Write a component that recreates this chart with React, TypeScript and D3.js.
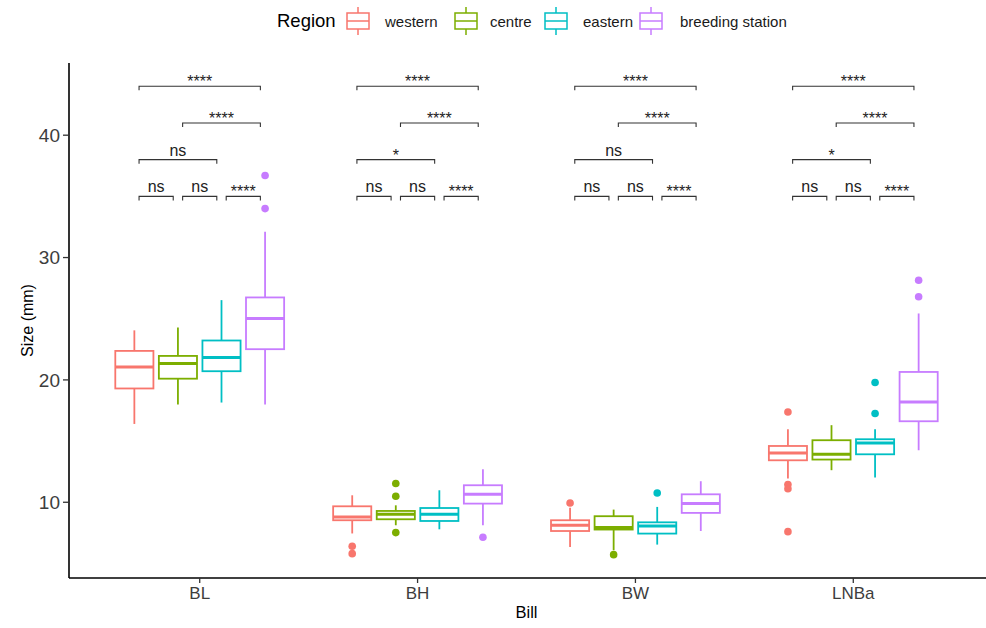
import * as d3 from "d3";

const categories = ["BL", "BH", "BW", "LNBa"];
const regions = ["western", "centre", "eastern", "breeding station"];
const colors = ["#F8766D", "#7CAE00", "#00BFC4", "#C77CFF"];

// [region][category]
const whiskerLow = [
  [16.4, 7.45, 6.35, 11.95],
  [18.0, 8.12, 6.08, 12.62],
  [18.15, 7.79, 6.54, 12.02],
  [18.0, 8.12, 7.65, 14.25],
];
const q1 = [
  [19.3, 8.53, 7.65, 13.43],
  [20.1, 8.61, 7.77, 13.49],
  [20.71, 8.47, 7.44, 13.92],
  [22.51, 9.89, 9.13, 16.62],
];
const median = [
  [21.05, 8.8, 8.12, 14.03],
  [21.34, 9.02, 7.93, 13.92],
  [21.83, 9.02, 8.06, 14.85],
  [25.02, 10.65, 9.89, 18.2],
];
const q3 = [
  [22.37, 9.67, 8.53, 14.6],
  [21.96, 9.29, 8.86, 15.07],
  [23.22, 9.53, 8.36, 15.15],
  [26.74, 11.39, 10.65, 20.65],
];
const whiskerHigh = [
  [24.05, 10.57, 9.55, 15.97],
  [24.28, 9.75, 9.4, 16.3],
  [26.52, 10.98, 9.62, 15.97],
  [32.1, 12.7, 11.72, 25.43],
];
const outliers = [
  [[], [6.4, 5.8], [9.94], [17.38, 11.45, 11.1, 7.6]],
  [[], [11.53, 10.49, 7.52], [5.72], []],
  [[], [], [10.76], [19.79, 17.25]],
  [[36.7, 34.0], [7.14], [], [28.15, 26.79]],
];

// pairwise comparisons: [from, to, y level]
const comparisons: [number, number, number][] = [
  [0, 1, 35],
  [1, 2, 35],
  [2, 3, 35],
  [0, 2, 38],
  [1, 3, 41],
  [0, 3, 44],
];
// labels [category][comparison]
const pLabels = [
  ["ns", "ns", "****", "ns", "****", "****"],
  ["ns", "ns", "****", "*", "****", "****"],
  ["ns", "ns", "****", "ns", "****", "****"],
  ["ns", "ns", "****", "*", "****", "****"],
];
const yTicks = [10, 20, 30, 40];

const W = 986;
const H = 628;
const left = 69;
const right = 984;
const top = 63;
const bottom = 578;
const FONT = "'Liberation Sans', Arial, sans-serif";

export default function App() {
  const x = d3.scaleLinear().domain([0.4, 4.6]).range([left, right]);
  const y = d3.scaleLinear().domain([3.81, 45.9]).range([bottom, top]);
  const dodge = 0.2;
  const boxW = 0.175;
  const cx = (ci: number, ri: number) => x(ci + 1 + (ri - 1.5) * dodge);
  const half = (x(boxW) - x(0)) / 2;
  const inset = 4.7;
  const tip = y(0) - y(0.33);

  // legend key / label positions
  const keyX = [347, 455, 545, 640];
  const labelX = [385, 490, 583, 680];

  return (
    <svg
      width={W}
      height={H}
      style={{ position: "absolute", left: 0, top: 0, background: "#fff" }}
      fontFamily={FONT}
    >
      {/* legend */}
      <text x={277} y={27} fontSize={18.5} fill="#000">
        Region
      </text>
      {regions.map((r, ri) => {
        const kx = keyX[ri];
        const kw = 22;
        return (
          <g key={r}>
            <g stroke={colors[ri]} strokeWidth={1.5} fill="none">
              <line x1={kx + kw / 2} x2={kx + kw / 2} y1={7} y2={13} />
              <line x1={kx + kw / 2} x2={kx + kw / 2} y1={29} y2={35} />
              <rect x={kx} y={13} width={kw} height={16} />
              <line x1={kx} x2={kx + kw} y1={21} y2={21} />
            </g>
            <text x={labelX[ri]} y={26.5} fontSize={15} fill="#1a1a1a">
              {r}
            </text>
          </g>
        );
      })}

      {/* boxes */}
      {regions.map((r, ri) => (
        <g key={r} stroke={colors[ri]} fill="none">
          {categories.map((c, ci) => {
            const px = cx(ci, ri);
            return (
              <g key={c}>
                <line x1={px} x2={px} y1={y(q3[ri][ci])} y2={y(whiskerHigh[ri][ci])} strokeWidth={1.8} />
                <line x1={px} x2={px} y1={y(q1[ri][ci])} y2={y(whiskerLow[ri][ci])} strokeWidth={1.8} />
                <rect
                  x={px - half}
                  y={y(q3[ri][ci])}
                  width={half * 2}
                  height={y(q1[ri][ci]) - y(q3[ri][ci])}
                  fill="#fff"
                  strokeWidth={1.8}
                />
                <line x1={px - half} x2={px + half} y1={y(median[ri][ci])} y2={y(median[ri][ci])} strokeWidth={3} />
                {outliers[ri][ci].map((v, k) => (
                  <circle key={k} cx={px} cy={y(v)} r={3.8} fill={colors[ri]} stroke="none" />
                ))}
              </g>
            );
          })}
        </g>
      ))}

      {/* significance brackets */}
      {categories.map((c, ci) => (
        <g key={c}>
          {comparisons.map(([a, b, lvl], k) => {
            const x1 = cx(ci, a) + inset;
            const x2 = cx(ci, b) - inset;
            const yy = y(lvl);
            const lab = pLabels[ci][k];
            const star = lab !== "ns";
            return (
              <g key={k}>
                <path
                  d={`M${x1},${yy + tip}V${yy}H${x2}V${yy + tip}`}
                  fill="none"
                  stroke="#333"
                  strokeWidth={1.1}
                />
                <text
                  x={(x1 + x2) / 2}
                  y={star ? yy + 1 : yy - 4}
                  textAnchor="middle"
                  fontSize={16}
                  fill="#222"
                >
                  {lab}
                </text>
              </g>
            );
          })}
        </g>
      ))}

      {/* axes */}
      <line x1={left} x2={left} y1={top} y2={bottom} stroke="#000" strokeWidth={1.6} />
      <line x1={left} x2={right + 2} y1={bottom} y2={bottom} stroke="#000" strokeWidth={1.6} />
      {yTicks.map((t) => (
        <g key={t}>
          <line x1={left - 6} x2={left} y1={y(t)} y2={y(t)} stroke="#333" strokeWidth={1.3} />
          <text x={left - 9} y={y(t)} dy="0.36em" textAnchor="end" fontSize={19} fill="#3d3d3d">
            {t}
          </text>
        </g>
      ))}
      {categories.map((c, ci) => (
        <g key={c}>
          <line x1={x(ci + 1)} x2={x(ci + 1)} y1={bottom} y2={bottom + 5} stroke="#333" strokeWidth={1.3} />
          <text x={x(ci + 1)} y={bottom + 21} textAnchor="middle" fontSize={17} fill="#3d3d3d">
            {c}
          </text>
        </g>
      ))}
      <text x={(left + right) / 2} y={618} textAnchor="middle" fontSize={16.5} fill="#000">
        Bill
      </text>
      <text
        transform={`translate(33,${(top + bottom) / 2}) rotate(-90)`}
        textAnchor="middle"
        fontSize={16}
        fill="#000"
      >
        Size (mm)
      </text>
    </svg>
  );
}
